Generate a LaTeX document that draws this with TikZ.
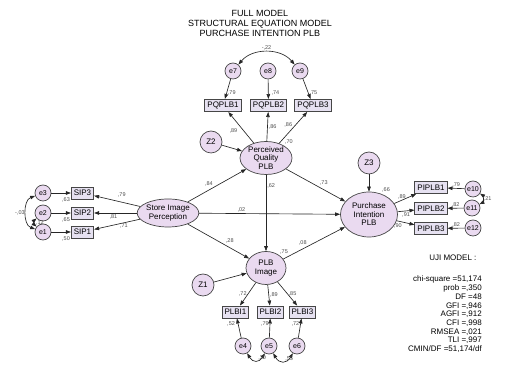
\documentclass[tikz,border=0pt]{standalone}
\usepackage{fontspec}
\setmainfont{Liberation Sans}
\usetikzlibrary{shapes.geometric, arrows.meta}

\definecolor{latfill}{RGB}{234,218,240}
\definecolor{obsfill}{RGB}{230,225,241}
\definecolor{linegray}{RGB}{70,70,70}

\begin{document}
\begin{tikzpicture}[x=1pt, y=1pt, font=\fontsize{8}{8.6}\selectfont,
   lat/.style={ellipse, draw=linegray, line width=.7pt, fill=latfill, inner sep=0pt, align=center},
   obs/.style={rectangle, draw=linegray, line width=.9pt, fill=obsfill, inner sep=2.5pt, minimum height=12pt},
   err/.style={circle, draw=linegray, line width=.7pt, fill=latfill, inner sep=0pt, minimum size=16pt, font=\fontsize{7}{8}\selectfont},
   dist/.style={err, minimum size=22pt, font=\fontsize{8}{9}\selectfont},
   coef/.style={font=\fontsize{5.5}{6}\selectfont, text=black!70, inner sep=1pt},
   arr/.style={-{Triangle[length=5pt,width=3.6pt]}, line width=.65pt, black!85},
   cov/.style={{Triangle[length=5pt,width=3.6pt]}-{Triangle[length=5pt,width=3.6pt]}, line width=.65pt, black!85}]
   \useasboundingbox (0,0) rectangle (509,366);

   % title
   \node (title) at (260,343) [align=center, font=\fontsize{9}{10}\selectfont] {FULL MODEL\\STRUCTURAL EQUATION MODEL\\PURCHASE INTENTION PLB};

   % latent variables
   \node (SIP) at (168,153) [lat, minimum width=60pt, minimum height=28pt] {Store Image\\Perception};
   \node (PQ) at (266,208) [lat, minimum width=52pt, minimum height=33pt, label={[coef]35:,70}] {Perceived\\Quality\\PLB};
   \node (PI) at (369,151.5) [lat, minimum width=57pt, minimum height=45pt, label={[coef]60:,66}] {Purchase\\Intention\\PLB};
   \node (PLB) at (266,98) [lat, minimum width=40pt, minimum height=33pt, label={[coef]45:,75}] {PLB\\Image};

   \node (Z2) at (211,224) [dist] {Z2};
   \node (Z3) at (369,203) [dist] {Z3};
   \node (Z1) at (203,81) [dist] {Z1};

   % indicators
   \node (SIP3) at (82.5,173) [obs] {SIP3};
   \node (SIP2) at (82.5,153) [obs] {SIP2};
   \node (SIP1) at (82.5,134) [obs] {SIP1};
   \node (PQPLB1) at (223,260.5) [obs] {PQPLB1};
   \node (PQPLB2) at (268.5,260.5) [obs] {PQPLB2};
   \node (PQPLB3) at (313,260.5) [obs] {PQPLB3};
   \node (PIPLB1) at (431,178.5) [obs] {PIPLB1};
   \node (PIPLB2) at (431,157.5) [obs] {PIPLB2};
   \node (PIPLB3) at (431,137.5) [obs] {PIPLB3};
   \node (PLBI1) at (235.5,54) [obs] {PLBI1};
   \node (PLBI2) at (270.5,54) [obs] {PLBI2};
   \node (PLBI3) at (302.5,54) [obs] {PLBI3};

   % errors
   \node (e3) at (43,173) [err] {e3};
   \node (e2) at (43,153) [err] {e2};
   \node (e1) at (43,134) [err] {e1};
   \node (e7) at (233,295) [err] {e7};
   \node (e8) at (268,295) [err] {e8};
   \node (e9) at (300,295) [err] {e9};
   \node (e10) at (473,177) [err] {e10};
   \node (e11) at (472,158) [err] {e11};
   \node (e12) at (473,138) [err] {e12};
   \node (e4) at (243,20) [err] {e4};
   \node (e5) at (269,20) [err] {e5};
   \node (e6) at (297,20) [err] {e6};

   % structural paths
   \path[arr](SIP)edge node[coef, pos=.45, above left]{,84}(PQ);
   \path[arr](SIP)edge node[coef, pos=.3, above]{,02}(PI);
   \path[arr](SIP)edge node[coef, pos=.6, above right]{,28}(PLB);
   \path[arr](PQ)edge node[coef, pos=.55, above right]{,73}(PI);
   \path[arr](PQ)edge node[coef, pos=.15, right]{,62}(PLB);
   \path[arr](PLB)edge node[coef, pos=.4, above left]{,08}(PI);
   \path[arr](Z2)edge(PQ);
   \path[arr](Z3)edge(PI);
   \path[arr](Z1)edge(PLB);

   % loadings
   \path[arr](SIP)edge node[coef, pos=.4, above=4pt]{,79}(SIP3);
   \path[arr](SIP)edge node[coef, pos=.55, below]{,81}(SIP2);
   \path[arr](SIP)edge node[coef, pos=.35, below]{,71}(SIP1);
   \path[arr](PQ)edge node[coef, pos=.4, left=5pt]{,89}(PQPLB1);
   \path[arr](PQ)edge node[coef, pos=.5, right]{,86}(PQPLB2);
   \path[arr](PQ)edge node[coef, pos=.58, left=2pt]{,86}(PQPLB3);
   \path[arr](PI)edge node[coef, pos=.35, above]{,89}(PIPLB1);
   \path[arr](PI)edge node[coef, pos=.5, below]{,91}(PIPLB2);
   \path[arr](PI)edge node[coef, pos=.35, below left]{,90}(PIPLB3);
   \path[arr](PLB)edge node[coef, pos=.5, left]{,72}(PLBI1);
   \path[arr](PLB)edge node[coef, pos=.5, right]{,89}(PLBI2);
   \path[arr](PLB)edge node[coef, pos=.5, right]{,85}(PLBI3);

   % error terms
   \path[arr](e3)edge node[coef, pos=.75, below=3pt]{,63}(SIP3);
   \path[arr](e2)edge node[coef, pos=.75, below=3pt]{,65}(SIP2);
   \path[arr](e1)edge node[coef, pos=.75, below=3pt]{,50}(SIP1);
   \path[arr](e7)edge node[coef, pos=.7, right]{,79}(PQPLB1);
   \path[arr](e8)edge node[coef, pos=.7, right=2pt]{,74}(PQPLB2);
   \path[arr](e9)edge node[coef, pos=.7, right]{,75}(PQPLB3);
   \path[arr](e10)edge node[coef, pos=.5, above]{,79}(PIPLB1);
   \path[arr](e11)edge node[coef, pos=.5, above]{,82}(PIPLB2);
   \path[arr](e12)edge node[coef, pos=.5, above]{,82}(PIPLB3);
   \path[arr](e4)edge node[coef, pos=.7, left=2pt]{,52}(PLBI1);
   \path[arr](e5)edge node[coef, pos=.7, left]{,79}(PLBI2);
   \path[arr](e6)edge node[coef, pos=.7, left]{,72}(PLBI3);

   % covariances
   \path[cov](e3)edge[bend right=70] node[coef, left]{-,03}(e1);
   \path[cov](e2)edge[bend right=50] node[coef, right]{,12}(e1);
   \path[cov](e7)edge[bend left=50] node[coef, above]{-,22}(e9);
   \path[cov](e10)edge[bend left=60] node[coef, right]{,21}(e11);
   \path[cov](e4)edge[bend right=60, looseness=1.6] node[coef, anchor=south west, xshift=1pt, yshift=-1pt]{,30}(e5);
   \path[cov](e5)edge[bend right=60, looseness=1.6] node[coef, anchor=south west, xshift=1pt, yshift=-1pt]{,55}(e6);

   % model fit
   \node (uji) at (480,108) [anchor=east] {UJI MODEL :};
   \node (fit) at (482,90) [anchor=north east, align=right, inner sep=0pt, font=\fontsize{8}{8.7}\selectfont] {chi-square =51,174\\prob =,350\\DF =48\\GFI =,946\\AGFI =,912\\CFI =,998\\RMSEA =,021\\TLI =,997\\CMIN/DF =51,174/df};
\end{tikzpicture}
\end{document}
